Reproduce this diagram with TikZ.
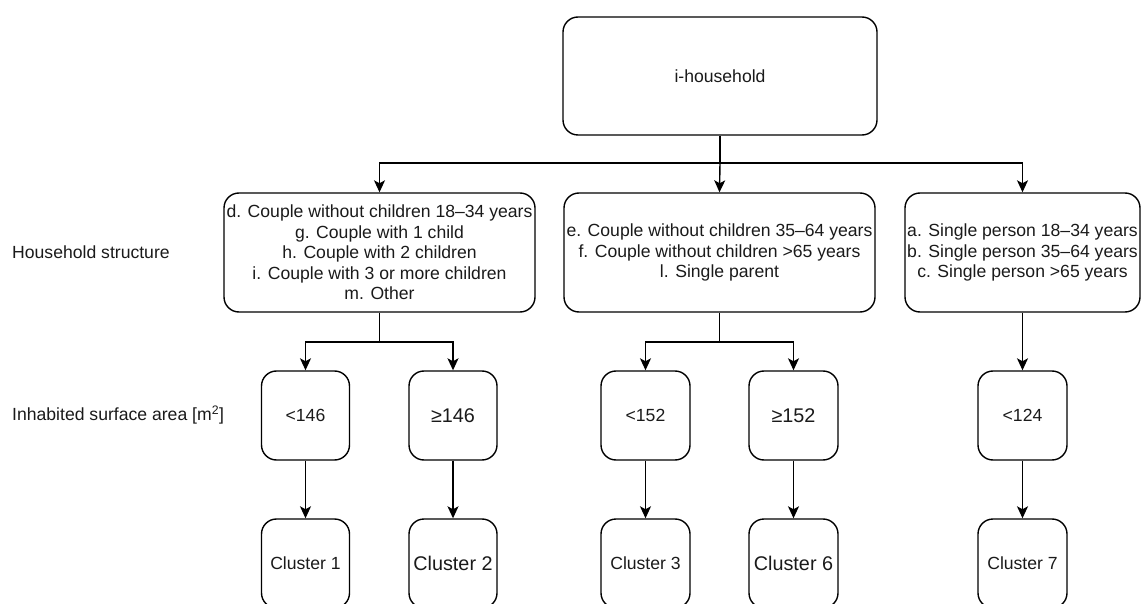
\documentclass[tikz,border=0pt]{standalone}
\usepackage{fontspec}
\setmainfont{Liberation Sans}
\usetikzlibrary{arrows.meta}
\definecolor{txt}{HTML}{1A1A1A}
\tikzset{
  box/.style={draw=black, line width=1.4pt, rounded corners=15pt, align=center, text=txt,
    font=\fontsize{17.6}{20.5}\selectfont, inner sep=0pt},
  big/.style={font=\fontsize{19.8}{22}\selectfont},
  lbl/.style={anchor=west, text=txt, font=\fontsize{17.6}{20.5}\selectfont, inner sep=0pt},
  conn/.style={line width=1.4pt, draw=black},
  arr/.style={conn, -{Stealth[length=12pt,width=11pt,inset=3pt]}},
}
\begin{document}
\begin{tikzpicture}[x=1pt,y=-1pt]
\useasboundingbox (0,0) rectangle (1141,604);
\clip (0,0) rectangle (1141,604);
% top
\node[box, minimum width=314pt, minimum height=118pt] (top) at (720,76) {i-household};
% household structure
\node[box, minimum width=311pt, minimum height=119pt] (b1) at (379.5,252.5)
  {d. Couple without children 18--34 years\\g. Couple with 1 child\\h. Couple with 2 children\\i. Couple with 3 or more children\\m. Other};
\node[box, minimum width=311pt, minimum height=119pt] (b2) at (719.5,252.5)
  {e. Couple without children 35--64 years\\f. Couple without children >65 years\\l. Single parent};
\node[box, minimum width=235pt, minimum height=119pt] (b3) at (1022.5,252.5)
  {a. Single person 18--34 years\\b. Single person 35--64 years\\c. Single person >65 years};
% surface
\node[box, minimum width=88pt, minimum height=89pt] (s1) at (305.5,415.5) {<146};
\node[box, big, minimum width=88pt, minimum height=89pt] (s2) at (453,415.5) {≥146};
\node[box, minimum width=89pt, minimum height=89pt] (s3) at (645.5,415.5) {<152};
\node[box, big, minimum width=89pt, minimum height=89pt] (s4) at (793.5,415.5) {≥152};
\node[box, minimum width=89pt, minimum height=89pt] (s5) at (1022.5,415.5) {<124};
% clusters
\node[box, minimum width=88pt, minimum height=89pt] (c1) at (305.5,563.5) {Cluster 1};
\node[box, big, minimum width=88pt, minimum height=89pt] (c2) at (453,563.5) {Cluster 2};
\node[box, minimum width=89pt, minimum height=89pt] (c3) at (645.5,563.5) {Cluster 3};
\node[box, big, minimum width=89pt, minimum height=89pt] (c4) at (793.5,563.5) {Cluster 6};
\node[box, minimum width=89pt, minimum height=89pt] (c5) at (1022.5,563.5) {Cluster 7};
% left labels
\node[lbl] (l1) at (12,252) {Household structure};
\node[lbl] (l2) at (12,415) {Inhabited surface area [m\textsuperscript{2}]};
% connectors
\coordinate (j0) at (720,163);
\draw[conn] (top.south) -- (j0);
\draw[arr] (j0) -| (b1.north);
\draw[arr] (j0) -- (b2.north);
\draw[arr] (j0) -| (b3.north);
\coordinate (j1) at (379.5,342);
\draw[conn] (b1.south) -- (j1);
\draw[arr] (j1) -| (s1.north);
\draw[arr] (j1) -| (s2.north);
\coordinate (j2) at (719.5,342);
\draw[conn] (b2.south) -- (j2);
\draw[arr] (j2) -| (s3.north);
\draw[arr] (j2) -| (s4.north);
\draw[arr] (b3.south) -- (s5.north);
\draw[arr] (s1) -- (c1);
\draw[arr] (s2) -- (c2);
\draw[arr] (s3) -- (c3);
\draw[arr] (s4) -- (c4);
\draw[arr] (s5) -- (c5);
\end{tikzpicture}
\end{document}
